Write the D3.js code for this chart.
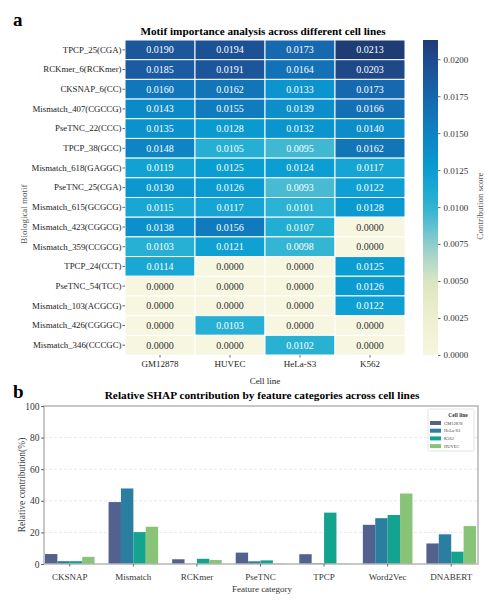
<!DOCTYPE html>
<html>
<head>
<meta charset="utf-8">
<script src="https://cdn.jsdelivr.net/npm/d3@7"></script>
<style>
  body { margin: 0; background: #fff; }
  svg, svg text { font-family: "Liberation Serif", "Times New Roman", serif; }
</style>
</head>
<body>
<svg id="chart" width="489" height="606"></svg>
<script>
// heatmap data
const cellLines = ['GM12878', 'HUVEC', 'HeLa-S3', 'K562']
const motifs = ['TPCP_25(CGA)', 'RCKmer_6(RCKmer)', 'CKSNAP_6(CC)', 'Mismatch_407(CGCCG)',
  'PseTNC_22(CCC)', 'TPCP_38(GCC)', 'Mismatch_618(GAGGC)', 'PseTNC_25(CGA)',
  'Mismatch_615(GCGCG)', 'Mismatch_423(CGGCG)', 'Mismatch_359(CCGCG)', 'TPCP_24(CCT)',
  'PseTNC_54(TCC)', 'Mismatch_103(ACGCG)', 'Mismatch_426(CGGGC)', 'Mismatch_346(CCCGC)']
const scores = [
  [0.0190, 0.0194, 0.0173, 0.0213],
  [0.0185, 0.0191, 0.0164, 0.0203],
  [0.0160, 0.0162, 0.0133, 0.0173],
  [0.0143, 0.0155, 0.0139, 0.0166],
  [0.0135, 0.0128, 0.0132, 0.0140],
  [0.0148, 0.0105, 0.0095, 0.0162],
  [0.0119, 0.0125, 0.0124, 0.0117],
  [0.0130, 0.0126, 0.0093, 0.0122],
  [0.0115, 0.0117, 0.0101, 0.0128],
  [0.0138, 0.0156, 0.0107, 0.0000],
  [0.0103, 0.0121, 0.0098, 0.0000],
  [0.0114, 0.0000, 0.0000, 0.0125],
  [0.0000, 0.0000, 0.0000, 0.0126],
  [0.0000, 0.0000, 0.0000, 0.0122],
  [0.0000, 0.0103, 0.0000, 0.0000],
  [0.0000, 0.0000, 0.0102, 0.0000]
]
const cbTicks = [0, 0.0025, 0.005, 0.0075, 0.01, 0.0125, 0.015, 0.0175, 0.02]

// bar chart data
const categories = ['CKSNAP', 'Mismatch', 'RCKmer', 'PseTNC', 'TPCP', 'Word2Vec', 'DNABERT']
const seriesNames = ['GM12878', 'HeLa-S3', 'K562', 'HUVEC']
const gm12878 = [6.3, 39.2, 3.0, 7.2, 6.2, 24.8, 13.0]
const helaS3 = [1.8, 47.8, 0.1, 1.7, 0.5, 29.0, 18.8]
const k562 = [1.8, 20.2, 3.3, 2.3, 32.5, 31.0, 7.8]
const huvec = [4.5, 23.6, 2.5, 0.3, 0.2, 44.6, 24.0]
const yTicks = [0, 20, 40, 60, 80, 100]

const serif = '"Liberation Serif", "Times New Roman", serif'
const svg = d3.select('#chart')

// ---------- panel a ----------
const hm = { left: 125, right: 405, top: 40, bottom: 355 }

let xCell = d3.scaleBand().domain(cellLines).range([hm.left, hm.right])
let yMotif = d3.scaleBand().domain(motifs).range([hm.top, hm.bottom])

let colorScale = d3.scaleLinear()
  .domain([0, 0.0025, 0.005, 0.0075, 0.01, 0.0125, 0.015, 0.0175, 0.02, 0.0213])
  .range(['#f6f6e1', '#eef0cf', '#dbe6c0', '#90cccc', '#2cb3d4', '#0a9dd2', '#0d82c3', '#1766ad', '#1f4b8f', '#1d3d74'])
  .clamp(true)

let cells = []
scores.forEach((row, i) => row.forEach((v, j) => cells.push({ motif: motifs[i], line: cellLines[j], v: v })))

svg.append('g').selectAll('rect')
  .data(cells)
  .enter()
  .append('rect')
  .attr('x', d => xCell(d.line))
  .attr('y', d => yMotif(d.motif))
  .attr('width', xCell.bandwidth())
  .attr('height', yMotif.bandwidth())
  .attr('fill', d => colorScale(d.v))
  .attr('stroke', '#fff')
  .attr('stroke-width', 1)

svg.append('g').selectAll('text')
  .data(cells)
  .enter()
  .append('text')
  .attr('x', d => xCell(d.line) + xCell.bandwidth() / 2)
  .attr('y', d => yMotif(d.motif) + yMotif.bandwidth() / 2)
  .attr('dy', '0.35em')
  .attr('text-anchor', 'middle')
  .attr('font-size', 10)
  .attr('fill', d => d.v > 0.007 ? '#fff' : '#333')
  .text(d => d.v.toFixed(4))

let hmY = svg.append('g')
  .attr('transform', `translate(${hm.left},0)`)
  .call(d3.axisLeft(yMotif).tickSize(2.5).tickPadding(1))
  .attr('font-family', serif)
hmY.select('.domain').remove()
hmY.selectAll('text').attr('font-size', 8.8).attr('fill', '#222')
hmY.selectAll('line').attr('stroke', '#666')

let hmX = svg.append('g')
  .attr('transform', `translate(0,${hm.bottom})`)
  .call(d3.axisBottom(xCell).tickSize(2.5).tickPadding(3))
  .attr('font-family', serif)
hmX.select('.domain').remove()
hmX.selectAll('text').attr('font-size', 9).attr('fill', '#222')
hmX.selectAll('line').attr('stroke', '#666')

svg.append('text')
  .attr('x', (hm.left + hm.right) / 2).attr('y', 384)
  .attr('text-anchor', 'middle').attr('font-size', 9).attr('fill', '#222')
  .text('Cell line')

svg.append('text')
  .attr('transform', `translate(27,214) rotate(-90)`)
  .attr('text-anchor', 'middle').attr('font-size', 9).attr('fill', '#555')
  .text('Biological motif')

svg.append('text')
  .attr('x', 263).attr('y', 35)
  .attr('text-anchor', 'middle').attr('font-size', 11.2).attr('font-weight', 'bold')
  .text('Motif importance analysis across different cell lines')

svg.append('text')
  .attr('x', 13).attr('y', 26)
  .attr('font-size', 19).attr('font-weight', 'bold')
  .text('a')

// colorbar
const cb = { x: 423, w: 15 }
let cbScale = d3.scaleLinear().domain([0, 0.0213]).range([hm.bottom, hm.top])
let defs = svg.append('defs')
let grad = defs.append('linearGradient')
  .attr('id', 'cbgrad').attr('x1', 0).attr('y1', 1).attr('x2', 0).attr('y2', 0)
grad.selectAll('stop')
  .data(d3.range(0, 1.0001, 0.05))
  .enter()
  .append('stop')
  .attr('offset', d => d)
  .attr('stop-color', d => colorScale(d * 0.0213))
svg.append('rect')
  .attr('x', cb.x).attr('y', hm.top)
  .attr('width', cb.w).attr('height', hm.bottom - hm.top)
  .attr('fill', 'url(#cbgrad)')

let cbAxis = svg.append('g')
  .attr('transform', `translate(${cb.x + cb.w},0)`)
  .call(d3.axisRight(cbScale).tickValues(cbTicks).tickFormat(d3.format('.4f')).tickSize(2.5).tickPadding(3))
  .attr('font-family', serif)
cbAxis.select('.domain').remove()
cbAxis.selectAll('text').attr('font-size', 9).attr('fill', '#333')
cbAxis.selectAll('line').attr('stroke', '#666')

svg.append('text')
  .attr('transform', `translate(483,206) rotate(-90)`)
  .attr('text-anchor', 'middle').attr('font-size', 9).attr('fill', '#555')
  .text('Contribution score')

// ---------- panel b ----------
const bc = { left: 44, right: 478, top: 406, bottom: 564 }

let xCat = d3.scaleBand().domain(categories).range([45, 476]).paddingInner(0.22)
let xSeries = d3.scaleBand().domain(seriesNames).range([0, xCat.bandwidth()])
let yPct = d3.scaleLinear().domain([0, 100]).range([bc.bottom, bc.top])
let barColor = d3.scaleOrdinal().domain(seriesNames).range(['#53618f', '#2a7fa0', '#14a38e', '#87c477'])

// gridlines
svg.append('g').selectAll('line')
  .data(yTicks.slice(1, -1))
  .enter()
  .append('line')
  .attr('x1', bc.left).attr('x2', bc.right)
  .attr('y1', d => yPct(d)).attr('y2', d => yPct(d))
  .attr('stroke', '#e2e2e2').attr('stroke-width', 0.8).attr('stroke-dasharray', '3,2')

let seriesVals = [gm12878, helaS3, k562, huvec]
let bars = []
seriesVals.forEach((vals, s) => vals.forEach((v, c) => bars.push({ cat: categories[c], s: seriesNames[s], v: v })))

svg.append('g').selectAll('rect')
  .data(bars)
  .enter()
  .append('rect')
  .attr('x', d => xCat(d.cat) + xSeries(d.s))
  .attr('y', d => yPct(d.v))
  .attr('width', xSeries.bandwidth())
  .attr('height', d => bc.bottom - yPct(d.v))
  .attr('fill', d => barColor(d.s))

// frame
svg.append('rect')
  .attr('x', bc.left).attr('y', bc.top)
  .attr('width', bc.right - bc.left).attr('height', bc.bottom - bc.top)
  .attr('fill', 'none').attr('stroke', '#b5b5b5').attr('stroke-width', 1.5)

let bY = svg.append('g')
  .attr('transform', `translate(${bc.left},0)`)
  .call(d3.axisLeft(yPct).tickValues(yTicks).tickSize(3).tickPadding(1.5))
  .attr('font-family', serif)
bY.select('.domain').remove()
bY.selectAll('text').attr('font-size', 9.5).attr('fill', '#333')
bY.selectAll('line').attr('stroke', '#666')

let bX = svg.append('g')
  .attr('transform', `translate(0,${bc.bottom})`)
  .call(d3.axisBottom(xCat).tickSize(2.5).tickPadding(7))
  .attr('font-family', serif)
bX.select('.domain').remove()
bX.selectAll('text').attr('font-size', 9).attr('fill', '#333')
bX.selectAll('line').attr('stroke', '#666')

svg.append('text')
  .attr('x', 262).attr('y', 592)
  .attr('text-anchor', 'middle').attr('font-size', 9).attr('fill', '#333')
  .text('Feature category')

svg.append('text')
  .attr('transform', `translate(25,${(bc.top + bc.bottom) / 2}) rotate(-90)`)
  .attr('text-anchor', 'middle').attr('font-size', 9.5).attr('fill', '#444')
  .text('Relative contribution(%)')

svg.append('text')
  .attr('x', 262).attr('y', 399)
  .attr('text-anchor', 'middle').attr('font-size', 11.3).attr('font-weight', 'bold')
  .text('Relative SHAP contribution by feature categories across cell lines')

svg.append('text')
  .attr('x', 13).attr('y', 398)
  .attr('font-size', 19).attr('font-weight', 'bold')
  .text('b')

// legend
let legend = svg.append('g').attr('transform', 'translate(428,409)')
legend.append('rect')
  .attr('width', 46).attr('height', 42)
  .attr('fill', '#fff').attr('stroke', '#ddd').attr('stroke-width', 0.8).attr('rx', 1.5)
legend.append('text')
  .attr('x', 30).attr('y', 8).attr('text-anchor', 'middle')
  .attr('font-size', 5.5).attr('font-weight', 'bold').attr('fill', '#333')
  .text('Cell line')
let items = legend.selectAll('.item')
  .data(seriesNames)
  .enter()
  .append('g')
  .attr('transform', (d, i) => `translate(2,${12 + i * 7.7})`)
items.append('rect')
  .attr('width', 11).attr('height', 4)
  .attr('fill', d => barColor(d))
items.append('text')
  .attr('x', 14).attr('y', 2).attr('dy', '0.35em')
  .attr('font-size', 4.5).attr('fill', '#444')
  .text(d => d)
</script>
</body>
</html>
